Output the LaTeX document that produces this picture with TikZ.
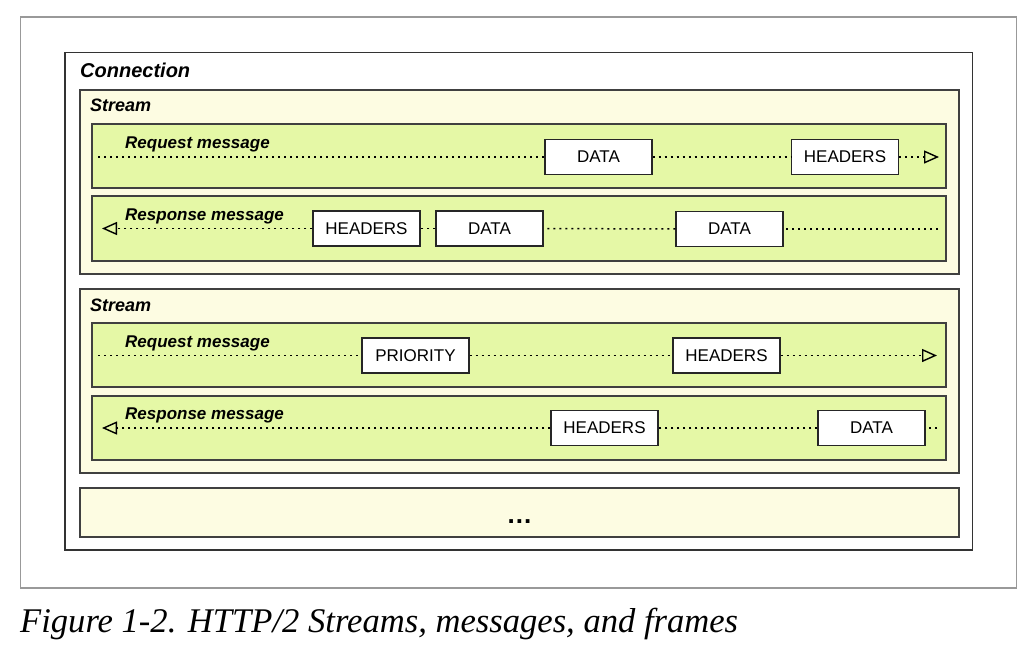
\documentclass[tikz,border=0pt]{standalone}
\usepackage{fontspec}
\setmainfont{Liberation Sans}
\newfontfamily\capfont{Liberation Serif}
\usetikzlibrary{arrows.meta}
\definecolor{streambg}{HTML}{FDFCE2}
\definecolor{msgbg}{HTML}{E5F8A6}
\definecolor{framegray}{HTML}{999999}
\begin{document}
\begin{tikzpicture}[x=1pt,y=-1pt,
  outerframe/.style={draw=framegray,line width=1.4pt},
  connbox/.style={draw=black!80,line width=1.6pt,fill=white},
  streambox/.style={draw=black!75,line width=1.5pt,fill=streambg},
  msgbox/.style={draw=black!75,line width=1.5pt,fill=msgbg},
  frm/.style={draw=black!85,line width=1.2pt,fill=white,minimum width=107pt,minimum height=35pt,inner sep=0pt,font=\fontsize{17}{20}\selectfont},
  flow/.style={dash pattern=on 2pt off 4pt,line width=1.5pt},
  tip/.style={-{Triangle[open,length=15pt,width=13pt,line width=1.4pt]}},
  lbl/.style={anchor=base west,inner sep=0pt,font=\fontsize{17}{20}\selectfont\bfseries\itshape},
]
\useasboundingbox[fill=white] (0,0) rectangle (1036,654);
% frame and containers
\draw[outerframe] (20.5,17) rectangle (1016.5,588);
\draw[connbox] (65,52.5) rectangle (972.5,550);
\node[lbl,font=\fontsize{20}{24}\selectfont\bfseries\itshape] (conn) at (80,77) {Connection};

\draw[streambox] (80,90) rectangle (959,274);
\node[lbl,font=\fontsize{18}{22}\selectfont\bfseries\itshape] (s1) at (90,111) {Stream};
\draw[streambox] (80,289) rectangle (959,473);
\node[lbl,font=\fontsize{18}{22}\selectfont\bfseries\itshape] (s2) at (90,311) {Stream};
\draw[streambox] (80,488) rectangle (959,537);
\node[inner sep=0pt,font=\fontsize{26}{28}\selectfont\bfseries] (dots) at (519.5,522) {.\kern1pt.\kern1pt.};

\draw[msgbox] (92,124) rectangle (946,188);
\draw[msgbox] (92,196) rectangle (946,261);
\draw[msgbox] (92,323) rectangle (946,387);
\draw[msgbox] (92,396) rectangle (946,460);

\node[lbl] (l1) at (125,148) {Request message};
\node[lbl] (l2) at (125,220) {Response message};
\node[lbl] (l3) at (125,347) {Request message};
\node[lbl] (l4) at (125,419) {Response message};

% stream 1 request
\coordinate (a0) at (98,157);
\node[frm] (a1) at (598.5,157) {DATA};
\node[frm] (a2) at (845,157) {HEADERS};
\coordinate (a3) at (939,157);
\draw[flow] (a0) -- (a1);
\draw[flow] (a1) -- (a2);
\draw[flow,tip] (a2) -- (a3);

% stream 1 response
\coordinate (b0) at (102,228.5);
\node[frm] (b1) at (366.5,228.5) {HEADERS};
\node[frm] (b2) at (489.5,228.5) {DATA};
\node[frm] (b3) at (729.5,229) {DATA};
\coordinate (b4) at (938,229);
\draw[flow] (b4) -- (b3);
\draw[flow] (b3) -- (b2);
\draw[flow] (b2) -- (b1);
\draw[flow,tip] (b1) -- (b0);

% stream 2 request
\coordinate (c0) at (98,355.5);
\node[frm] (c1) at (415.5,355.5) {PRIORITY};
\node[frm] (c2) at (726.5,355.5) {HEADERS};
\coordinate (c3) at (937,355.5);
\draw[flow] (c0) -- (c1);
\draw[flow] (c1) -- (c2);
\draw[flow,tip] (c2) -- (c3);

% stream 2 response
\coordinate (d0) at (102,428);
\node[frm] (d1) at (604.5,428) {HEADERS};
\node[frm] (d2) at (871.5,428) {DATA};
\coordinate (d3) at (937,428);
\draw[flow] (d3) -- (d2);
\draw[flow] (d2) -- (d1);
\draw[flow,tip] (d1) -- (d0);

% caption
\node[anchor=base west,inner sep=0pt] (cap) at (20,632)
  {\resizebox{718pt}{!}{\capfont\itshape\fontsize{30}{34}\selectfont Figure 1-2. HTTP/2 Streams, messages, and frames}};
\end{tikzpicture}
\end{document}
